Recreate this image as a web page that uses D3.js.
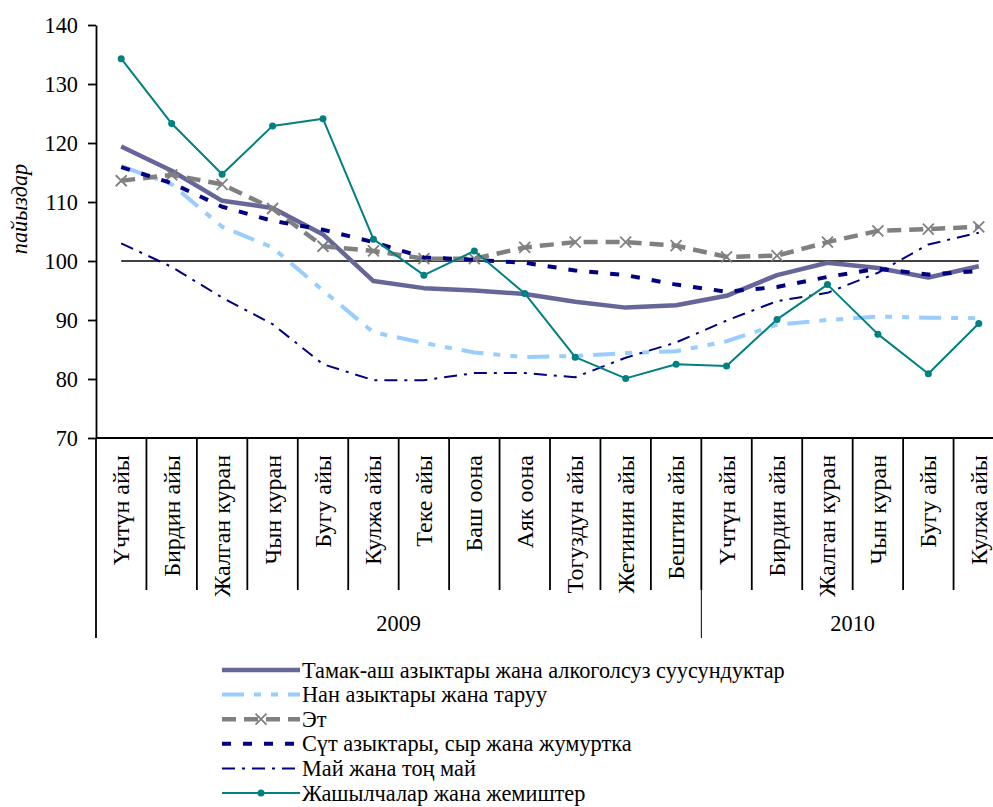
<!DOCTYPE html>
<html><head><meta charset="utf-8">
<script src="https://cdn.jsdelivr.net/npm/d3@7"></script>
<style>
body{margin:0;background:#fff;}
svg{display:block;}
svg text{font-family:"Liberation Serif","DejaVu Serif",serif;fill:#000;}
</style></head>
<body><svg id="c" width="993" height="807"></svg>
<script>
const months = ["Үчтүн айы","Бирдин айы","Жалган куран","Чын куран","Бугу айы","Кулжа айы","Теке айы","Баш оона","Аяк оона","Тогуздун айы","Жетинин айы","Бештин айы","Үчтүн айы","Бирдин айы","Жалган куран","Чын куран","Бугу айы","Кулжа айы"];
const years = ["2009","2010"];
const yearCounts = [12,6];
const yTicks = [70,80,90,100,110,120,130,140];
const seriesNames = ["Тамак-аш азыктары жана алкоголсуз суусундуктар","Нан азыктары жана таруу","Эт","Сүт азыктары, сыр жана жумуртка","Май жана тоң май","Жашылчалар жана жемиштер"];
const food   = [119.4,115.3,110.2,109.0,104.5,96.6,95.4,95.0,94.4,93.1,92.1,92.5,94.1,97.6,99.7,98.8,97.2,99.1];
const bread  = [116.1,113.0,105.8,102.3,95.0,87.9,86.1,84.5,83.7,83.9,84.4,84.7,86.4,89.2,90.0,90.6,90.4,90.3];
const meat   = [113.6,114.6,113.0,108.9,102.5,101.7,100.4,100.4,102.3,103.2,103.2,102.6,100.7,100.9,103.2,105.1,105.4,105.8];
const dairy  = [115.9,113.2,109.2,106.8,105.3,103.2,100.6,100.2,99.7,98.4,97.6,96.0,94.8,95.6,97.3,98.7,97.7,98.3];
const oil    = [103.0,99.0,93.8,89.3,82.5,79.8,79.8,81.0,81.0,80.3,83.6,86.2,89.9,93.2,94.6,98.0,102.8,104.8];
const veg    = [134.3,123.3,114.7,122.9,124.1,103.7,97.6,101.7,94.5,83.7,80.1,82.5,82.2,90.1,96.0,87.6,80.9,89.4];
const reference = 100;

const FS = 22.3, FSC = 24;
const svg = d3.select("#c");
const idx = months.map((_,i)=>i);
const x = d3.scaleBand().domain(idx).range([96,1004]).paddingInner(0).paddingOuter(0);
const cx = i => x(i) + x.bandwidth()/2;
const y = d3.scaleLinear().domain([70,140]).range([438,25]);

// y axis
const yAxis = d3.axisLeft(y).tickValues(yTicks).tickSize(8).tickSizeOuter(0).tickPadding(10);
const ga = svg.append("g").attr("transform","translate(96,0)").call(yAxis);
ga.attr("font-family",null).attr("font-size",null);
ga.select(".domain").attr("stroke","#000").attr("stroke-width",1.8);
ga.selectAll(".tick line").attr("stroke","#000").attr("stroke-width",1.8);
ga.selectAll(".tick text").attr("font-size",FS).attr("fill","#000");

svg.append("text").attr("transform","translate(27,209) rotate(-90)").attr("text-anchor","middle")
  .attr("font-size",FS).attr("font-style","italic").text("пайыздар");

// x axis line
svg.append("line").attr("x1",96).attr("x2",993).attr("y1",y(70)).attr("y2",y(70)).attr("stroke","#000").attr("stroke-width",1.8);
// category separators
idx.slice(1).forEach(i=>{
  svg.append("line").attr("x1",x(i)).attr("x2",x(i)).attr("y1",y(70)).attr("y2",590).attr("stroke","#000").attr("stroke-width",1.8);
});
// year separators
let acc=0;
const yearBounds=[0];
yearCounts.forEach(c=>{acc+=c; yearBounds.push(acc);});
svg.append("line").attr("x1",96).attr("x2",96).attr("y1",y(70)).attr("y2",638).attr("stroke","#000").attr("stroke-width",1.8);
svg.append("line").attr("x1",x(yearBounds[1])).attr("x2",x(yearBounds[1])).attr("y1",590).attr("y2",638).attr("stroke","#000").attr("stroke-width",1);
years.forEach((yr,k)=>{
  const a = x(yearBounds[k]), b = x(yearBounds[k+1]-1)+x.bandwidth();
  svg.append("text").attr("x",(a+b)/2).attr("y",631).attr("text-anchor","middle").attr("font-size",FS).text(yr);
});
// category labels
months.forEach((m,i)=>{
  svg.append("text").attr("transform",`translate(${cx(i)},455) rotate(-90)`)
    .attr("text-anchor","end").attr("dominant-baseline","central").attr("font-size",FSC).text(m);
});

const plot = svg.append("g");
const line = d3.line().x((d,i)=>cx(i)).y(d=>y(d));
// reference line at 100
plot.append("line").attr("x1",cx(0)).attr("x2",cx(months.length-1)).attr("y1",y(reference)).attr("y2",y(reference)).attr("stroke","#000").attr("stroke-width",1.6);

const styles = [
  {data:food,  color:"#666699", w:4.5, dash:null},
  {data:bread, color:"#99CCFF", w:4,   dash:"22,10,7,10,7,10"},
  {data:meat,  color:"#808080", w:4.5, dash:"14,8", marker:"x"},
  {data:dairy, color:"#000080", w:4,   dash:"9,12"},
  {data:oil,   color:"#000080", w:2,   dash:"13,7,3,7"},
  {data:veg,   color:"#008080", w:2,   dash:null, marker:"o"}
];
styles.forEach(s=>{
  plot.append("path").datum(s.data).attr("d",line).attr("fill","none")
    .attr("stroke",s.color).attr("stroke-width",s.w).attr("stroke-dasharray",s.dash).attr("stroke-linejoin","round");
  if(s.marker==="x"){
    plot.selectAll(null).data(s.data).enter().append("path")
      .attr("d",(d,i)=>{const X=cx(i),Y=y(d),r=5.5;return `M${X-r},${Y-r}L${X+r},${Y+r}M${X-r},${Y+r}L${X+r},${Y-r}`;})
      .attr("stroke",s.color).attr("stroke-width",1.8).attr("fill","none");
  }
  if(s.marker==="o"){
    plot.selectAll(null).data(s.data).enter().append("circle")
      .attr("cx",(d,i)=>cx(i)).attr("cy",d=>y(d)).attr("r",3.5).attr("fill",s.color);
  }
});

// legend
const lg = svg.append("g");
const ly0 = 670, ldy = 24.6, lx1 = 222, lx2 = 300;
styles.forEach((s,k)=>{
  const yy = ly0 + k*ldy;
  lg.append("line").attr("x1",lx1).attr("x2",lx2).attr("y1",yy).attr("y2",yy)
    .attr("stroke",s.color).attr("stroke-width",s.w).attr("stroke-dasharray",s.dash);
  const mx=(lx1+lx2)/2;
  if(s.marker==="x"){
    const r=5.5;
    lg.append("path").attr("d",`M${mx-r},${yy-r}L${mx+r},${yy+r}M${mx-r},${yy+r}L${mx+r},${yy-r}`).attr("stroke",s.color).attr("stroke-width",1.8);
  }
  if(s.marker==="o"){
    lg.append("circle").attr("cx",mx).attr("cy",yy).attr("r",3.5).attr("fill",s.color);
  }
  lg.append("text").attr("x",lx2+2).attr("y",yy).attr("dominant-baseline","central").attr("font-size",FS).text(seriesNames[k]);
});
</script></body></html>
